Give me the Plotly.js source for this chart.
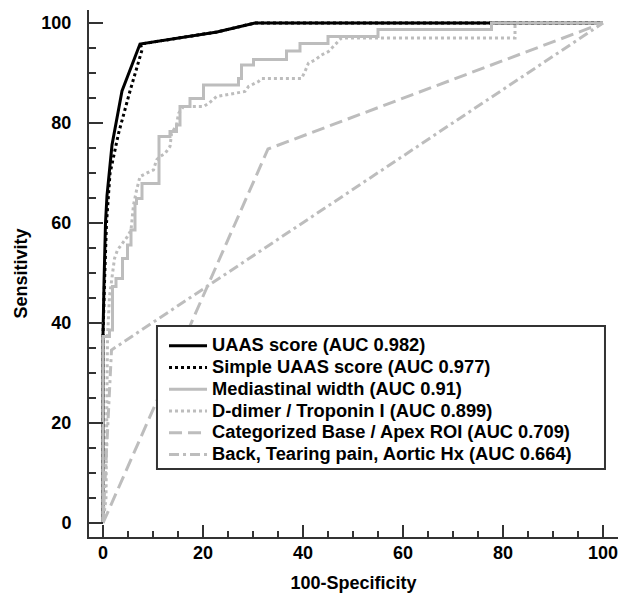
<!DOCTYPE html>
<html>
<head>
<meta charset="utf-8">
<script src="https://cdn.plot.ly/plotly-3.0.1.min.js"></script>
<style>html,body{margin:0;padding:0;background:#fff;}#chart{width:619px;height:597px;}</style>
</head>
<body>
<div id="chart"></div>
<script>
// ROC curves (x = 100-Specificity, y = Sensitivity)
const uaasX = [0, 0, 0.2, 0.5, 0.8, 1.8, 3.8, 7.4, 22.8, 30.4, 100];
const uaasY = [0, 37.5, 48, 60, 65.5, 75.6, 86.4, 95.8, 98.2, 100, 100];

const simpleX = [0, 0, 0.3, 0.7, 1.4, 3.1, 5.4, 7.8, 7.5, 22.8, 30.4, 100];
const simpleY = [0, 37.5, 48, 60, 69.9, 77.9, 86.4, 94.6, 95.8, 98.2, 100, 100];

const mediastinalX = [0, 1.3, 1.9, 2.6, 3.9, 4.9, 5.6, 6.4, 6.7, 7.8, 11.2, 13.4, 14.7, 15.4, 17.4, 20.1, 27.1, 27.7, 30.1, 36.7, 39.4, 45, 55, 77.7, 100];
const mediastinalY = [0, 37.3, 38.6, 47.3, 48.9, 52.9, 55.6, 58.6, 63.9, 64.9, 67.9, 77.3, 78.3, 79.6, 83.3, 84.9, 87.6, 88.9, 91.6, 92.7, 94.4, 95.9, 97.3, 98.7, 100];

const ddimerX = [0, 0.6, 0.9, 1.3, 1.6, 1.9, 2.3, 2.9, 3.6, 4.9, 5.6, 6.1, 6.7, 7.4, 9.4, 10.1, 10.7, 11.4, 12.4, 13.4, 13.7, 14.7, 15.1, 16.1, 20.1, 21.1, 22.7, 28.4, 29.1, 31.1, 31.7, 39.7, 40.4, 41.1, 42.4, 43.7, 45.1, 47.1, 47.7, 82.4, 82.4, 100];
const ddimerY = [0, 5, 37.3, 45.3, 47.6, 49.9, 52.9, 54.6, 55.6, 57.3, 58.6, 63.6, 66.5, 69.3, 70.3, 70.6, 72.6, 73.3, 73.9, 75.3, 77.9, 79.6, 81.9, 83.3, 83.3, 83.9, 85.3, 86.3, 87.3, 88.3, 88.9, 88.9, 90.3, 92, 92.6, 93.6, 94.3, 96.3, 97, 97, 100, 100];

const baseApexX = [0, 33, 100];
const baseApexY = [0, 74.8, 100];

const backPainX = [0, 1.7, 100];
const backPainY = [0, 34.6, 100];

const names = [
  'UAAS score (AUC 0.982)',
  'Simple UAAS score (AUC 0.977)',
  'Mediastinal width (AUC 0.91)',
  'D-dimer / Troponin I (AUC 0.899)',
  'Categorized Base / Apex ROI (AUC 0.709)',
  'Back, Tearing pain, Aortic Hx (AUC 0.664)'
];

const tickVals = [0, 20, 40, 60, 80, 100];
const tickText = ['0', '20', '40', '60', '80', '100'];
const minorVals = [5, 10, 15, 25, 30, 35, 45, 50, 55, 65, 70, 75, 85, 90, 95];

const BLACK = '#000000';
const GRAY = '#bdbdbd';
const AX = '#333333';
const FAM = 'Liberation Sans, Arial, sans-serif';
const lbl = s => '<span style="font-size:18.3px">' + s + '</span>';

const traces = [
  {x: uaasX, y: uaasY, name: lbl(names[0]), mode: 'lines', line: {color: BLACK, width: 3}},
  {x: simpleX, y: simpleY, name: lbl(names[1]), mode: 'lines', line: {color: BLACK, width: 3, dash: '3px,3px'}},
  {x: mediastinalX, y: mediastinalY, name: lbl(names[2]), mode: 'lines', line: {color: GRAY, width: 3, shape: 'vh'}},
  {x: ddimerX, y: ddimerY, name: lbl(names[3]), mode: 'lines', line: {color: GRAY, width: 3, dash: '3px,3px'}},
  {x: baseApexX, y: baseApexY, name: lbl(names[4]), mode: 'lines', line: {color: GRAY, width: 3, dash: '13px,6px'}},
  {x: backPainX, y: backPainY, name: lbl(names[5]), mode: 'lines', line: {color: GRAY, width: 3, dash: '10px,4px,3px,4px'}}
];

const axisCommon = {
  showline: true, linewidth: 2, linecolor: AX, mirror: false,
  showgrid: false, zeroline: false,
  ticks: 'inside', tickwidth: 2, tickcolor: AX,
  tickvals: tickVals, ticktext: tickText,
  tickfont: {family: FAM, size: 18, color: '#000', weight: 'bold'}
};

const layout = {
  width: 619, height: 597,
  margin: {l: 89, r: 1, t: 10, b: 60, pad: 0},
  paper_bgcolor: '#fff', plot_bgcolor: '#fff',
  showlegend: true,
  xaxis: Object.assign({}, axisCommon, {
    range: [-2.8, 103], ticklen: 12, ticklabelstandoff: -2,
    minor: {tickvals: minorVals, ticks: 'inside', ticklen: 6, tickwidth: 2, tickcolor: AX},
    title: {text: '100-Specificity', font: {family: FAM, size: 18, color: '#000', weight: 'bold'}, standoff: 15}
  }),
  yaxis: Object.assign({}, axisCommon, {
    range: [-2.8, 102.6], ticklen: 14, ticklabelstandoff: 12,
    minor: {tickvals: minorVals, ticks: 'inside', ticklen: 7, tickwidth: 2, tickcolor: AX},
    title: {text: 'Sensitivity', font: {family: FAM, size: 18, color: '#000', weight: 'bold'}, standoff: 9}
  }),
  shapes: [{
    type: 'rect', xref: 'paper', yref: 'paper',
    x0: 0.1285, x1: 0.9754, y0: 0.129, y1: 0.4004,
    line: {color: AX, width: 2}, fillcolor: '#fff', layer: 'above'
  }],
  legend: {
    x: 0.1418, y: 0.3928, xanchor: 'left', yanchor: 'top',
    borderwidth: 0, bgcolor: 'rgba(0,0,0,0)',
    itemwidth: 38, tracegroupgap: 0,
    font: {family: FAM, size: 14.4, color: '#000', weight: 'bold'}
  }
};

Plotly.newPlot('chart', traces, layout, {staticPlot: true, displayModeBar: false});
</script>
</body>
</html>
